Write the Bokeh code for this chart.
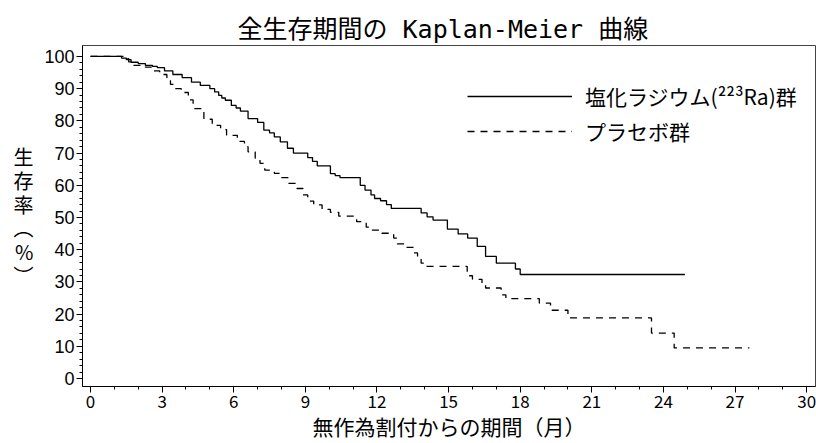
from bokeh.plotting import figure
from bokeh.models import (FixedTicker, Range1d, Legend, LegendItem)
from bokeh.embed import file_html
from bokeh.resources import INLINE

# Kaplan-Meier estimates: event times (months) and survival (%) after each step
ra_time = [0, 1.3, 1.5, 1.7, 2.0, 2.3, 2.6, 2.8, 3.1, 3.45, 3.84, 4.23, 4.6, 5.0,
           5.2, 5.37, 5.5, 5.65, 5.9, 6.1, 6.28, 6.6, 7.0, 7.26, 7.5, 7.7, 7.95,
           8.25, 8.5, 9.1, 9.3, 9.5, 10.05, 10.25, 10.45, 11.3, 11.5, 11.75, 11.9,
           12.15, 12.4, 12.6, 13.85, 14.1, 14.35, 14.95, 15.4, 15.8, 16.2, 16.55,
           17.0, 17.8, 18.0, 24.9]
ra_surv = [100, 99.5, 99.0, 98.2, 97.8, 97.2, 96.9, 96.5, 95.5, 94.4, 93.4, 92.0,
           91.0, 90.0, 89.0, 87.9, 87.1, 86.4, 84.8, 84.0, 83.0, 80.7, 79.5, 77.1,
           76.3, 75.0, 73.5, 71.5, 70.0, 68.6, 67.4, 66.0, 63.6, 63.0, 62.4, 60.0,
           58.5, 57.0, 55.9, 55.2, 54.0, 52.8, 51.4, 50.2, 49.2, 46.4, 44.9, 43.6,
           41.0, 37.9, 35.8, 34.0, 32.3, 32.3]

pl_time = [0, 1.45, 1.6, 1.75, 2.1, 2.55, 2.9, 3.2, 3.35, 3.5, 3.8, 4.1, 4.3, 4.75,
           5.1, 5.45, 5.7, 6.15, 6.45, 6.6, 6.9, 7.1, 7.3, 7.7, 8.0, 8.3, 8.65, 8.9,
           9.1, 9.35, 9.7, 10.05, 10.4, 11.15, 11.55, 11.8, 12.2, 12.7, 12.85, 13.2,
           13.55, 13.7, 13.85, 13.96, 15.78, 16.0, 16.4, 16.55, 17.2, 17.4, 18.8,
           19.27, 20.0, 23.5, 24.45, 27.6]
pl_surv = [100, 99.3, 98.3, 97.2, 96.7, 95.5, 94.4, 92.5, 91.3, 90.0, 88.8, 86.5,
           83.8, 80.5, 78.6, 77.3, 75.5, 73.6, 72.0, 70.4, 68.4, 66.8, 64.7, 63.7,
           62.4, 60.6, 59.0, 57.0, 55.1, 53.9, 52.5, 51.6, 50.4, 48.7, 47.0, 46.1,
           45.1, 43.6, 41.8, 40.7, 39.0, 37.0, 35.8, 34.8, 31.9, 30.8, 29.4, 28.1,
           26.0, 24.8, 23.4, 21.2, 18.8, 14.1, 9.5, 9.5]

x_ticks = list(range(0, 31, 3))
y_ticks = list(range(0, 101, 10))

JP = "Noto Sans CJK JP"
JP_MONO = "DejaVu Sans Mono, Noto Sans CJK JP"

p = figure(width=816, height=443, output_backend="svg", toolbar_location=None,
           x_range=Range1d(-0.335, 30.37), y_range=Range1d(-2.48, 103.4),
           min_border_left=82, min_border_right=1, min_border_top=45,
           min_border_bottom=56)

p.title.text = "全生存期間の Kaplan-Meier 曲線"
p.title.text_font = JP_MONO
p.title.text_font_size = "25px"
p.title.text_font_style = "normal"
p.title.text_color = "black"
p.title.align = "left"
p.title.offset = 155
p.title.standoff = 4

p.grid.visible = False
p.background_fill_color = "white"
p.border_fill_color = "white"
p.outline_line_color = "#444444"
p.outline_line_width = 1

# axes
p.xaxis.ticker = FixedTicker(ticks=x_ticks, minor_ticks=list(range(0, 31)))
p.yaxis.ticker = FixedTicker(ticks=y_ticks, minor_ticks=list(range(0, 101, 2)))
for ax in (p.xaxis, p.yaxis):
    ax.axis_line_color = "black"
    ax.major_tick_line_color = "black"
    ax.minor_tick_line_color = "black"
    ax.major_tick_out = 6
    ax.major_tick_in = 0
    ax.minor_tick_out = 3
    ax.minor_tick_in = 0
    ax.major_label_text_color = "black"

p.xaxis.major_label_text_font = JP
p.xaxis.major_label_text_font_size = "17px"
p.xaxis.major_label_standoff = 2
p.xaxis.axis_label = "無作為割付からの期間（月）"
p.xaxis.axis_label_text_font = JP
p.xaxis.axis_label_text_font_size = "21px"
p.xaxis.axis_label_text_font_style = "normal"
p.xaxis.axis_label_text_color = "black"
p.xaxis.axis_label_standoff = 0

p.yaxis.major_label_text_font = "Liberation Sans"
p.yaxis.major_label_text_font_size = "18px"
p.yaxis.major_label_standoff = 2

# y-axis title written vertically, one character per line
p.yaxis.axis_label = "\n".join(["生", "存", "率", "︵", "%", "︶"])
p.yaxis.axis_label_orientation = "horizontal"
p.yaxis.axis_label_text_font = JP
p.yaxis.axis_label_text_font_size = "20px"
p.yaxis.axis_label_text_font_style = "normal"
p.yaxis.axis_label_text_color = "black"
p.yaxis.axis_label_text_line_height = 0.82
p.yaxis.axis_label_text_align = "center"
p.yaxis.axis_label_standoff = 8

# survival curves
r_ra = p.step(ra_time, ra_surv, mode="after", line_color="black", line_width=1.3)
r_pl = p.step(pl_time, pl_surv, mode="after", line_color="black", line_width=1.3,
              line_dash="7 6")

legend = Legend(items=[LegendItem(label="塩化ラジウム(²²³Ra)群", renderers=[r_ra]),
                       LegendItem(label="プラセボ群", renderers=[r_pl])],
                location=(385, 240), glyph_width=105, glyph_height=20,
                label_standoff=13, spacing=5, padding=0, margin=0,
                label_text_font=JP, label_text_font_size="21px",
                label_text_color="black",
                border_line_color=None, background_fill_alpha=0)
p.add_layout(legend, "center")

open("out.html", "w").write(file_html(p, INLINE))
